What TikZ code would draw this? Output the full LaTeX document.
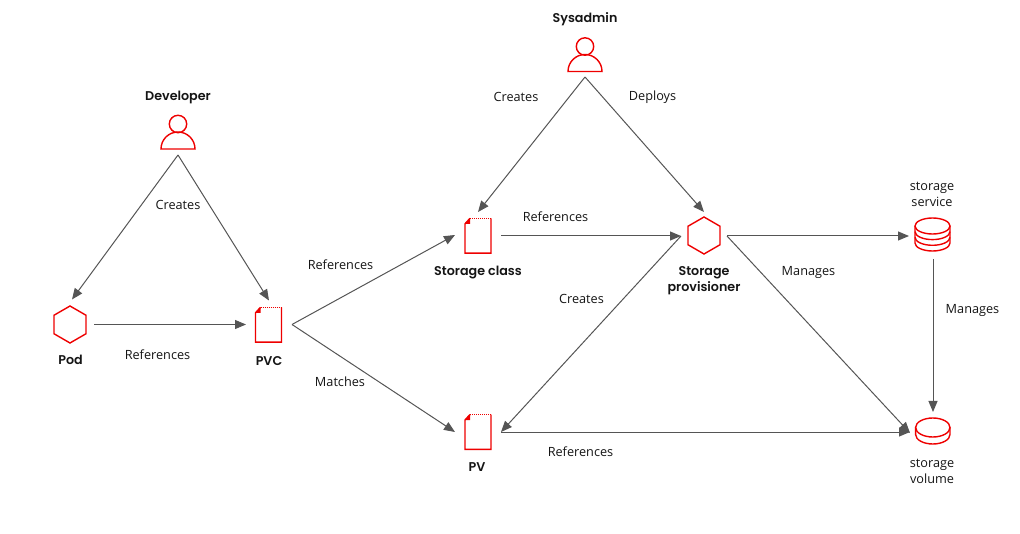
\documentclass[tikz,border=0pt]{standalone}
\usepackage{fontspec}
\setmainfont{Open Sans}
\newfontfamily\boldlabel{Poppins}[UprightFont=*-SemiBold]
\usetikzlibrary{arrows.meta}
\definecolor{iconred}{HTML}{EE0000}
\definecolor{linegray}{HTML}{555555}
\definecolor{textgray}{HTML}{151515}
\tikzset{
  x=1pt,y=-1pt,
  slot/.style={inner sep=0pt,outer sep=0pt,minimum width=#1,minimum height=48pt},
  slot/.default=48pt,
  conn/.style={draw=linegray,line width=1pt,-{Triangle[length=11pt,width=9pt,fill=linegray]}},
  lab/.style={font=\fontsize{12.7pt}{16pt}\selectfont,text=textgray,inner sep=0pt,align=center},
  title/.style={font=\boldlabel\fontsize{12.7pt}{16pt}\selectfont,text=textgray,inner sep=0pt,align=center},
  icon/.style={draw=iconred,line width=1.4pt,line join=miter},
  person/.pic={
    \draw[icon] (0,-9) circle[radius=8.7pt];
    \draw[icon] (-17,16) arc[start angle=180,end angle=0,radius=17pt] -- cycle;
  },
  hexa/.pic={
    \draw[icon] (0,-18.5) -- (16,-9.25) -- (16,9.25) -- (0,18.5) -- (-16,9.25) -- (-16,-9.25) -- cycle;
  },
  docu/.pic={
    \draw[icon] (-8,-17.5) -- (-13,-12) -- (-13,17.3) -- (13,17.3) -- (13,-17.5);
    \draw[draw=iconred,line width=1pt,dash pattern=on 1pt off 1pt] (-8,-17.5) -- (13,-17.5);
    \fill[iconred] (-8,-17.5) -- (-8,-12) -- (-13,-12) -- cycle;
  },
  stack/.pic={
    \draw[icon] (-17.5,-10) arc[start angle=180,end angle=-180,x radius=17.5pt,y radius=8pt];
    \draw[icon] (-17.5,-10) -- (-17.5,7) arc[start angle=180,end angle=360,x radius=17.5pt,y radius=8pt] -- (17.5,-10);
    \draw[icon] (-17.5,-4.4) arc[start angle=180,end angle=360,x radius=17.5pt,y radius=8pt];
    \draw[icon] (-17.5,1.3) arc[start angle=180,end angle=360,x radius=17.5pt,y radius=8pt];
  },
  disc/.pic={
    \draw[icon] (-17.2,-4.5) arc[start angle=180,end angle=-180,x radius=17.2pt,y radius=9.5pt];
    \draw[icon] (-17.2,-4.5) -- (-17.2,2.5) arc[start angle=180,end angle=360,x radius=17.2pt,y radius=9.5pt] -- (17.2,-4.5);
  },
}
\begin{document}
\begin{tikzpicture}
\useasboundingbox (0,0) rectangle (1020,534);
% icon slots
\node[slot=48pt,minimum height=44pt] (dev) at (178,133) {};
\node[slot=48pt,minimum height=44pt] (sys) at (585,55) {};
\node[slot=48pt] (pod) at (70,324.5) {};
\node[slot=46pt] (pvc) at (269,324.5) {};
\node[slot=46pt] (sc) at (478,236) {};
\node[slot=46pt] (pv) at (478,432) {};
\node[slot=46pt] (sp) at (704,236) {};
\node[slot=48pt,minimum height=46pt] (ss) at (933,236) {};
\node[slot=46pt,minimum height=40pt] (sv) at (933,432) {};
% icons
\pic at (178,133) {person};
\pic at (585,55.5) {person};
\pic at (70,324.5) {hexa};
\pic at (704,235.5) {hexa};
\pic at (268.5,324.8) {docu};
\pic at (478,235.8) {docu};
\pic at (478,432) {docu};
\pic at (932.5,236) {stack};
\pic at (932.8,432) {disc};
% connectors
\draw[conn] (dev.south) -- ([xshift=2pt,yshift=1pt]pod.north);
\draw[conn] (dev.south) -- (pvc.north);
\draw[conn] (pod.east) -- (pvc.west);
\draw[conn] (pvc.east) -- ([yshift=1pt]sc.west);
\draw[conn] (pvc.east) -- (pv.west);
\draw[conn] (sys.south) -- (sc.north);
\draw[conn] (sys.south) -- (sp.north);
\draw[conn] (sc.east) -- (sp.west);
\draw[conn] (sp.east) -- (ss.west);
\draw[conn] (sp.west) -- (pv.east);
\draw[conn] (sp.east) -- ([yshift=-1pt]sv.west);
\draw[conn] (pv.east) -- (sv.west);
\draw[conn] (ss.south) -- (sv.north);
% titles
\node[title] (tdev) at (178,97.5) {Developer};
\node[title] (tsys) at (585,19) {Sysadmin};
\node[title] (tpod) at (70.5,360) {Pod};
\node[title] (tpvc) at (269,361) {PVC};
\node[title] (tsc) at (478,272.5) {Storage class};
\node[title] (tpv) at (477,467) {PV};
\node[title] (tsp) at (704,280.5) {Storage\\provisioner};
% labels
\node[lab] (l1) at (178,205) {Creates};
\node[lab] (l2) at (157.5,354.5) {References};
\node[lab] (l3) at (516,96.5) {Creates};
\node[lab] (l4) at (652.5,97) {Deploys};
\node[lab] (l5) at (340.5,264.5) {References};
\node[lab] (l6) at (340,381.5) {Matches};
\node[lab] (l7) at (555.5,216.5) {References};
\node[lab] (l8) at (808.5,272.5) {Manages};
\node[lab] (l9) at (581.5,298.5) {Creates};
\node[lab] (l10) at (972.5,310.5) {Manages};
\node[lab] (l11) at (580.5,451.5) {References};
\node[lab] (l12) at (932,194.5) {storage\\service};
\node[lab] (l13) at (932,471.5) {storage\\volume};
\end{tikzpicture}
\end{document}
